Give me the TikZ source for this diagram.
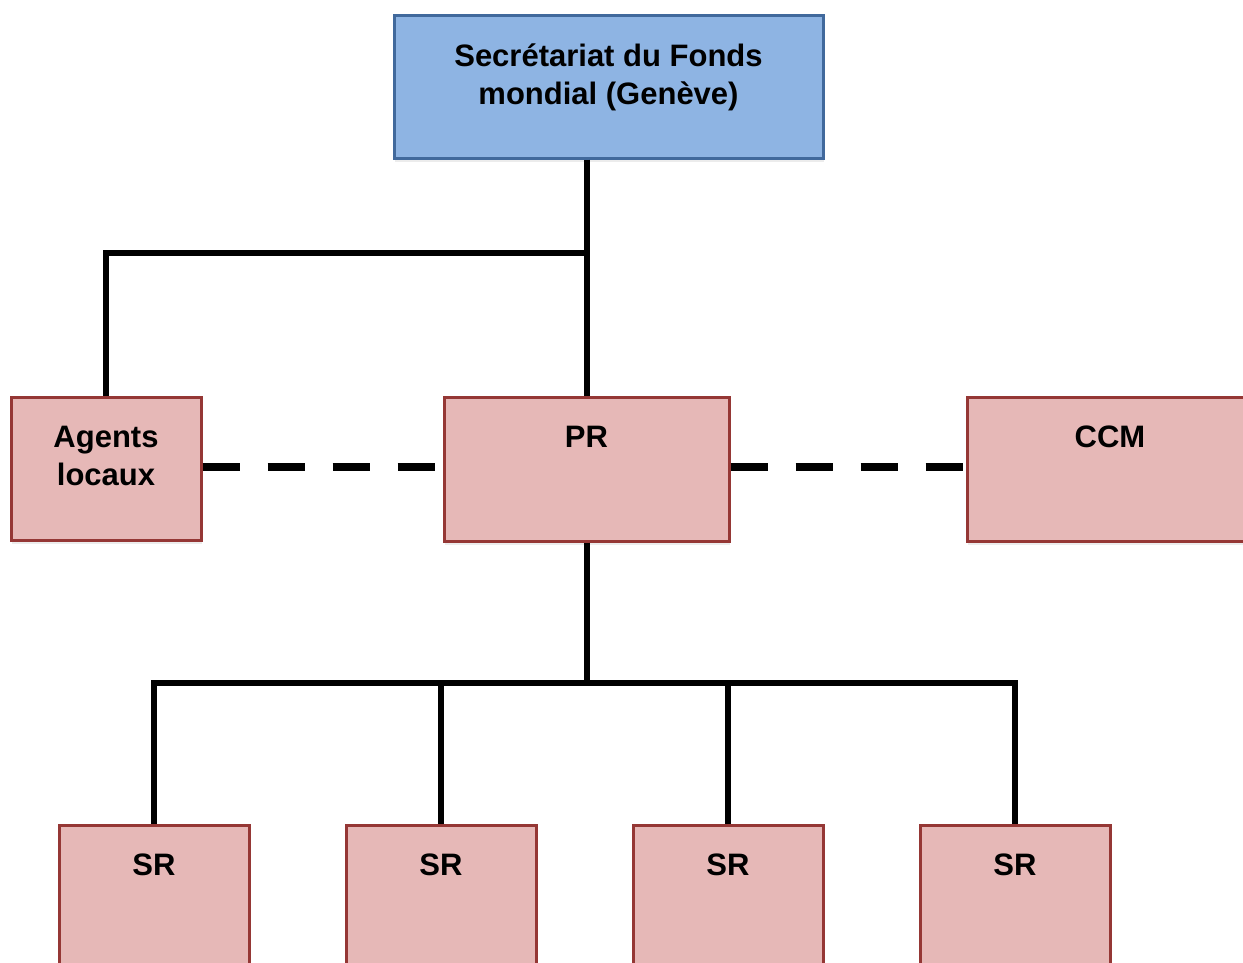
\documentclass[tikz,border=0pt]{standalone}
\usepackage{fontspec}
\setmainfont{Liberation Sans}
\usetikzlibrary{positioning,shadows}

\definecolor{fondsfill}{HTML}{8EB4E3}
\definecolor{fondsline}{HTML}{41699C}
\definecolor{orgfill}{HTML}{E6B8B7}
\definecolor{orgline}{HTML}{953735}

\begin{document}
\begin{tikzpicture}[x=1pt,y=-1pt,
    box/.style={draw=orgline, fill=orgfill, line width=3pt, inner sep=0pt,
        drop shadow={shadow xshift=1pt, shadow yshift=-4pt, opacity=0.15}},
    lab/.style={anchor=north, inner sep=0pt, yshift=-30pt, align=center,
        font=\fontsize{31}{38}\selectfont\bfseries},
    link/.style={line width=6pt},
    dashlink/.style={line width=8pt, dash pattern=on 37pt off 28pt}
    ]
    \clip (0,0) rectangle (1243,962);
    \node[box, draw=fondsline, fill=fondsfill, minimum width=429pt, minimum height=143pt,
        label={[lab]north:Secrétariat du Fonds\\mondial (Genève)}] (fonds) at (608.5,86.5) {};
    \node[box, minimum width=190pt, minimum height=143pt,
        label={[lab]north:Agents\\locaux}] (agents) at (106,468.5) {};
    \node[box, minimum width=285pt, minimum height=144pt,
        label={[lab]north:PR}] (pr) at (586.5,469) {};
    \node[box, minimum width=286pt, minimum height=144pt,
        label={[lab]north:CCM}] (ccm) at (1110,469) {};
    \foreach \i/\x in {1/154,2/441,3/728,4/1015}
        \node[box, minimum width=190pt, minimum height=143pt,
            label={[lab]north:SR}] (sr\i) at (\x,896.5) {};

    % liaisons
    \coordinate (jtop) at (pr.north |- 0,253);
    \coordinate (jbot) at (pr.south |- 0,683);
    \draw[link] (fonds.south -| pr.north) -- (pr.north);
    \draw[link] (agents.north) |- (jtop);
    \draw[link] (pr.south) -- (jbot);
    \foreach \i in {1,...,4}
        \draw[link] (sr\i.north) |- (jbot);
    \draw[dashlink] ([yshift=1.5pt]agents.east) -- ([yshift=1.5pt]agents.east -| pr.west);
    \draw[dashlink] ([yshift=2pt]pr.east) -- ([yshift=2pt]pr.east -| ccm.west);
\end{tikzpicture}
\end{document}
